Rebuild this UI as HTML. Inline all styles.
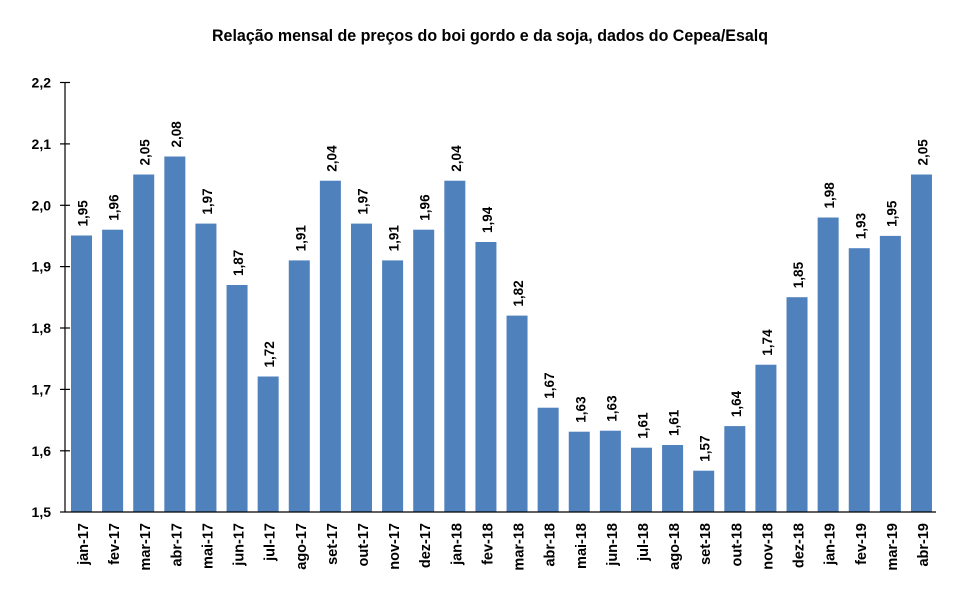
<!DOCTYPE html>
<html><head><meta charset="utf-8"><style>
html,body{margin:0;padding:0;background:#fff;}
svg{display:block;}
text{font-family:"Liberation Sans",Arial,sans-serif;font-weight:bold;fill:#000;}
</style></head><body>
<svg width="960" height="593" viewBox="0 0 960 593" xmlns="http://www.w3.org/2000/svg">
<rect width="960" height="593" fill="#fff"/>
<text x="490" y="41" font-size="17" text-anchor="middle" textLength="556" lengthAdjust="spacingAndGlyphs">Relação mensal de preços do boi gordo e da soja, dados do Cepea/Esalq</text>
<g fill="#4F81BD">
<rect x="71" y="235.5" width="21" height="276.5"/>
<rect x="102.11" y="229.7" width="21" height="282.3"/>
<rect x="133.22" y="174.5" width="21" height="337.5"/>
<rect x="164.33" y="156.5" width="21" height="355.5"/>
<rect x="195.44" y="223.6" width="21" height="288.4"/>
<rect x="226.55" y="285" width="21" height="227"/>
<rect x="257.66" y="376.5" width="21" height="135.5"/>
<rect x="288.77" y="260.4" width="21" height="251.6"/>
<rect x="319.88" y="180.7" width="21" height="331.3"/>
<rect x="350.99" y="223.6" width="21" height="288.4"/>
<rect x="382.1" y="260.4" width="21" height="251.6"/>
<rect x="413.21" y="229.7" width="21" height="282.3"/>
<rect x="444.32" y="180.7" width="21" height="331.3"/>
<rect x="475.43" y="242" width="21" height="270"/>
<rect x="506.54" y="315.6" width="21" height="196.4"/>
<rect x="537.65" y="407.7" width="21" height="104.3"/>
<rect x="568.76" y="431.7" width="21" height="80.3"/>
<rect x="599.87" y="430.7" width="21" height="81.3"/>
<rect x="630.98" y="447.7" width="21" height="64.3"/>
<rect x="662.09" y="445" width="21" height="67"/>
<rect x="693.2" y="470.7" width="21" height="41.3"/>
<rect x="724.31" y="426.1" width="21" height="85.9"/>
<rect x="755.42" y="364.7" width="21" height="147.3"/>
<rect x="786.53" y="297.2" width="21" height="214.8"/>
<rect x="817.64" y="217.5" width="21" height="294.5"/>
<rect x="848.75" y="248.2" width="21" height="263.8"/>
<rect x="879.86" y="235.9" width="21" height="276.1"/>
<rect x="910.97" y="174.5" width="21" height="337.5"/>
</g>
<!-- axes -->
<g stroke="#000" stroke-width="1.2" fill="none">
<line x1="65" y1="82.5" x2="65" y2="512"/>
<line x1="65" y1="512" x2="936" y2="512"/>
<line x1="60" y1="82.5" x2="70" y2="82.5"/>
<line x1="60" y1="143.9" x2="70" y2="143.9"/>
<line x1="60" y1="205.3" x2="70" y2="205.3"/>
<line x1="60" y1="266.6" x2="70" y2="266.6"/>
<line x1="60" y1="328" x2="70" y2="328"/>
<line x1="60" y1="389.4" x2="70" y2="389.4"/>
<line x1="60" y1="450.8" x2="70" y2="450.8"/>
<line x1="60" y1="512" x2="65" y2="512"/>
</g>
<g font-size="14" text-anchor="end">
<text x="51" y="87.5">2,2</text>
<text x="51" y="148.9">2,1</text>
<text x="51" y="210.3">2,0</text>
<text x="51" y="271.6">1,9</text>
<text x="51" y="333">1,8</text>
<text x="51" y="394.4">1,7</text>
<text x="51" y="455.8">1,6</text>
<text x="51" y="517">1,5</text>
</g>
<!-- value labels -->
<g font-size="13.5">
<text transform="translate(87.5,226.5) rotate(-90)">1,95</text>
<text transform="translate(118.61,220.7) rotate(-90)">1,96</text>
<text transform="translate(149.72,165.5) rotate(-90)">2,05</text>
<text transform="translate(180.83,147.5) rotate(-90)">2,08</text>
<text transform="translate(211.94,214.6) rotate(-90)">1,97</text>
<text transform="translate(243.05,276) rotate(-90)">1,87</text>
<text transform="translate(274.16,367.5) rotate(-90)">1,72</text>
<text transform="translate(305.27,251.4) rotate(-90)">1,91</text>
<text transform="translate(336.38,171.7) rotate(-90)">2,04</text>
<text transform="translate(367.49,214.6) rotate(-90)">1,97</text>
<text transform="translate(398.6,251.4) rotate(-90)">1,91</text>
<text transform="translate(429.71,220.7) rotate(-90)">1,96</text>
<text transform="translate(460.82,171.7) rotate(-90)">2,04</text>
<text transform="translate(491.93,233) rotate(-90)">1,94</text>
<text transform="translate(523.04,306.6) rotate(-90)">1,82</text>
<text transform="translate(554.15,398.7) rotate(-90)">1,67</text>
<text transform="translate(585.26,422.7) rotate(-90)">1,63</text>
<text transform="translate(616.37,421.7) rotate(-90)">1,63</text>
<text transform="translate(647.48,438.7) rotate(-90)">1,61</text>
<text transform="translate(678.59,436) rotate(-90)">1,61</text>
<text transform="translate(709.7,461.7) rotate(-90)">1,57</text>
<text transform="translate(740.81,417.1) rotate(-90)">1,64</text>
<text transform="translate(771.92,355.7) rotate(-90)">1,74</text>
<text transform="translate(803.03,288.2) rotate(-90)">1,85</text>
<text transform="translate(834.14,208.5) rotate(-90)">1,98</text>
<text transform="translate(865.25,239.2) rotate(-90)">1,93</text>
<text transform="translate(896.36,226.9) rotate(-90)">1,95</text>
<text transform="translate(927.47,165.5) rotate(-90)">2,05</text>
</g>
<!-- x labels -->
<g font-size="14.5" text-anchor="end">
<text transform="translate(88,523) rotate(-90)">jan-17</text>
<text transform="translate(119.11,523) rotate(-90)">fev-17</text>
<text transform="translate(150.22,523) rotate(-90)">mar-17</text>
<text transform="translate(181.33,523) rotate(-90)">abr-17</text>
<text transform="translate(212.44,523) rotate(-90)">mai-17</text>
<text transform="translate(243.55,523) rotate(-90)">jun-17</text>
<text transform="translate(274.66,523) rotate(-90)">jul-17</text>
<text transform="translate(305.77,523) rotate(-90)">ago-17</text>
<text transform="translate(336.88,523) rotate(-90)">set-17</text>
<text transform="translate(367.99,523) rotate(-90)">out-17</text>
<text transform="translate(399.1,523) rotate(-90)">nov-17</text>
<text transform="translate(430.21,523) rotate(-90)">dez-17</text>
<text transform="translate(461.32,523) rotate(-90)">jan-18</text>
<text transform="translate(492.43,523) rotate(-90)">fev-18</text>
<text transform="translate(523.54,523) rotate(-90)">mar-18</text>
<text transform="translate(554.65,523) rotate(-90)">abr-18</text>
<text transform="translate(585.76,523) rotate(-90)">mai-18</text>
<text transform="translate(616.87,523) rotate(-90)">jun-18</text>
<text transform="translate(647.98,523) rotate(-90)">jul-18</text>
<text transform="translate(679.09,523) rotate(-90)">ago-18</text>
<text transform="translate(710.2,523) rotate(-90)">set-18</text>
<text transform="translate(741.31,523) rotate(-90)">out-18</text>
<text transform="translate(772.42,523) rotate(-90)">nov-18</text>
<text transform="translate(803.53,523) rotate(-90)">dez-18</text>
<text transform="translate(834.64,523) rotate(-90)">jan-19</text>
<text transform="translate(865.75,523) rotate(-90)">fev-19</text>
<text transform="translate(896.86,523) rotate(-90)">mar-19</text>
<text transform="translate(927.97,523) rotate(-90)">abr-19</text>
</g>
</svg>
</body></html>
